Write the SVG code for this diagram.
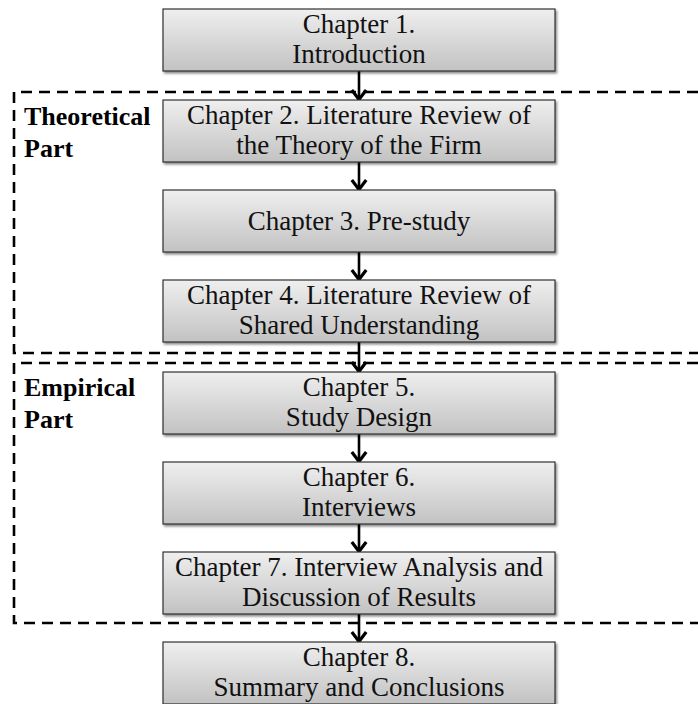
<svg xmlns="http://www.w3.org/2000/svg" width="698" height="704" viewBox="0 0 698 704">
  <style>
    .box { fill: url(#boxFill); stroke: #303030; stroke-width: 1.2; filter: url(#shadow); }
    .label { font-family: "Liberation Serif", "Times New Roman", serif; font-size: 27px; fill: #111; text-anchor: middle; }
    .part { font-family: "Liberation Serif", "Times New Roman", serif; font-size: 26px; font-weight: bold; fill: #000; }
    .frame { fill: none; stroke: #000; stroke-width: 2.6; stroke-dasharray: 11 7; }
    .link { fill: none; stroke: #000; stroke-width: 2.6; marker-end: url(#head); }
  </style>
  <defs>
    <linearGradient id="boxFill" x1="0" y1="0" x2="0" y2="1">
      <stop offset="0" stop-color="#efefef"/>
      <stop offset="1" stop-color="#c2c2c2"/>
    </linearGradient>
    <filter id="shadow" x="-5%" y="-10%" width="115%" height="130%">
      <feDropShadow dx="1.5" dy="2" stdDeviation="1.2" flood-color="#000" flood-opacity="0.45"/>
    </filter>
    <!-- open chevron head, drawn pointing along +x -->
    <marker id="head" viewBox="0 0 14 18" refX="12" refY="9" markerWidth="14" markerHeight="18" markerUnits="userSpaceOnUse" orient="auto">
      <path d="M2 1.8 L11.5 9 L2 16.2" fill="none" stroke="#000" stroke-width="3.2"/>
    </marker>
  </defs>

  <!-- part frames -->
  <g id="theoretical-part">
    <path class="frame" d="M698 92 H14 V353 H698"/>
    <text class="part" x="24" y="125">Theoretical</text>
    <text class="part" x="24" y="157">Part</text>
  </g>
  <g id="empirical-part">
    <path class="frame" d="M698 363 H14 V623 H698"/>
    <text class="part" x="24" y="396">Empirical</text>
    <text class="part" x="24" y="428">Part</text>
  </g>

  <!-- connectors -->
  <g id="connectors">
    <line class="link" x1="359" y1="71" x2="359" y2="100"/>
    <line class="link" x1="359" y1="162" x2="359" y2="190"/>
    <line class="link" x1="359" y1="252" x2="359" y2="280"/>
    <line class="link" x1="359" y1="342" x2="359" y2="372"/>
    <line class="link" x1="359" y1="434" x2="359" y2="462"/>
    <line class="link" x1="359" y1="524" x2="359" y2="552"/>
    <line class="link" x1="359" y1="614" x2="359" y2="642"/>
  </g>

  <!-- chapters -->
  <g id="ch1">
    <rect class="box" x="163" y="9" width="392" height="62"/>
    <text class="label" x="359" y="33">Chapter 1.</text>
    <text class="label" x="359" y="63">Introduction</text>
  </g>
  <g id="ch2">
    <rect class="box" x="163" y="100" width="392" height="62"/>
    <text class="label" x="359" y="124">Chapter 2. Literature Review of</text>
    <text class="label" x="359" y="154">the Theory of the Firm</text>
  </g>
  <g id="ch3">
    <rect class="box" x="163" y="190" width="392" height="62"/>
    <text class="label" x="359" y="230">Chapter 3. Pre-study</text>
  </g>
  <g id="ch4">
    <rect class="box" x="163" y="280" width="392" height="62"/>
    <text class="label" x="359" y="304">Chapter 4. Literature Review of</text>
    <text class="label" x="359" y="334">Shared Understanding</text>
  </g>
  <g id="ch5">
    <rect class="box" x="163" y="372" width="392" height="62"/>
    <text class="label" x="359" y="396">Chapter 5.</text>
    <text class="label" x="359" y="426">Study Design</text>
  </g>
  <g id="ch6">
    <rect class="box" x="163" y="462" width="392" height="62"/>
    <text class="label" x="359" y="486">Chapter 6.</text>
    <text class="label" x="359" y="516">Interviews</text>
  </g>
  <g id="ch7">
    <rect class="box" x="163" y="552" width="392" height="62"/>
    <text class="label" x="359" y="576">Chapter 7. Interview Analysis and</text>
    <text class="label" x="359" y="606">Discussion of Results</text>
  </g>
  <g id="ch8">
    <rect class="box" x="163" y="642" width="392" height="62"/>
    <text class="label" x="359" y="666">Chapter 8.</text>
    <text class="label" x="359" y="696">Summary and Conclusions</text>
  </g>
</svg>
